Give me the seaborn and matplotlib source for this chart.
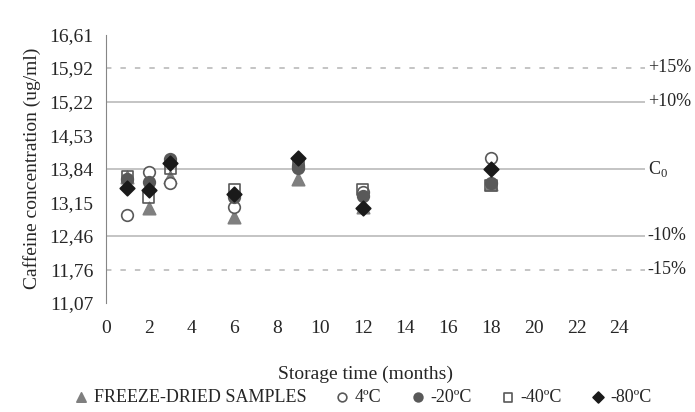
import numpy as np
import pandas as pd
import matplotlib
matplotlib.use("Agg")
import matplotlib.pyplot as plt
import seaborn as sns

# --------------------------------------------------
# data
# --------------------------------------------------

months = [1, 2, 3, 6, 9, 12, 18]

freeze_dried = [13.68, 13.02, 13.67, 12.85, 13.63, 13.06, 13.52]
temp_4 = [12.89, 13.77, 13.55, 13.05, 13.90, 13.36, 14.06]
temp_m20 = [13.62, 13.57, 14.04, 13.26, 13.86, 13.28, 13.55]
temp_m40 = [13.68, 13.24, 13.85, 13.40, 13.94, 13.42, 13.50]
temp_m80 = [13.44, 13.40, 13.96, 13.32, 14.06, 13.03, 13.83]

series_names = ["FREEZE-DRIED SAMPLES", "4ºC", "-20ºC", "-40ºC", "-80ºC"]

y_ticks = [11.07, 11.76, 12.46, 13.15, 13.84, 14.53, 15.22, 15.92, 16.61]
y_tick_labels = ["11,07", "11,76", "12,46", "13,15", "13,84", "14,53", "15,22", "15,92", "16,61"]
x_ticks = list(range(0, 25, 2))

ref_levels = [15.92, 15.22, 13.84, 12.46, 11.76]
ref_labels = ["+15%", "+10%", r"C$_\mathrm{0}$", "-10%", "-15%"]
ref_styles = [(0, (3, 5)), "-", "-", "-", (0, (3, 5))]

df = pd.DataFrame({
    "Month": months * 5,
    "Conc": freeze_dried + temp_4 + temp_m20 + temp_m40 + temp_m80,
    "Series": np.repeat(series_names, len(months)),
})

# --------------------------------------------------
# plotting
# --------------------------------------------------

sns.set_style("white")
plt.rcParams["font.family"] = ["Liberation Serif", "DejaVu Serif"]
plt.rcParams["mathtext.fontset"] = "custom"
plt.rcParams["mathtext.rm"] = "Liberation Serif"

fig = plt.figure(figsize=(6.95, 4.12), dpi=100)
ax = fig.add_axes([0.1525, 0.2646, 0.7755, 0.6516])

for lvl, ls in zip(ref_levels, ref_styles):
    ax.axhline(lvl, color="#bfbfbf", lw=1.3, ls=ls, zorder=1)

styles = {
    "FREEZE-DRIED SAMPLES": dict(marker="^", color="#7f7f7f", edgecolor="#7f7f7f", s=80),
    "4ºC": dict(marker="o", color="white", edgecolor="#595959", s=70),
    "-20ºC": dict(marker="o", color="#595959", edgecolor="#595959", s=70),
    "-40ºC": dict(marker="s", color="none", edgecolor="#595959", s=65),
    "-80ºC": dict(marker="D", color="#1a1a1a", edgecolor="#1a1a1a", s=55),
}

for name in series_names:
    st = styles[name]
    sns.scatterplot(data=df[df["Series"] == name], x="Month", y="Conc", ax=ax,
                    marker=st["marker"], color=st["color"], edgecolor=st["edgecolor"],
                    linewidth=1.2, s=st["s"], label=name, zorder=3)

ax.set_xlim(0, 25.2)
ax.set_ylim(11.07, 16.61)
ax.set_xticks(x_ticks)
ax.set_yticks(y_ticks)
ax.set_yticklabels(y_tick_labels)

for sp in ["top", "right", "bottom"]:
    ax.spines[sp].set_visible(False)
ax.spines["left"].set_color("#868686")
ax.tick_params(axis="y", length=5, color="#868686", labelsize=14, pad=4)
ax.tick_params(axis="x", length=0, labelsize=14, pad=12)

for lvl, lab in zip(ref_levels, ref_labels):
    ax.text(1.005, lvl, lab, transform=ax.get_yaxis_transform(),
            va="center", ha="left", fontsize=13)

ax.set_xlabel("Storage time (months)", fontsize=14)
ax.xaxis.set_label_coords(0.482, -0.235)
ax.set_ylabel("Caffeine concentration (ug/ml)", fontsize=14, labelpad=6)

handles, labels = ax.get_legend_handles_labels()
ax.get_legend().remove()
fig.legend(handles, labels, loc="center", bbox_to_anchor=(0.522, 0.035), ncol=5,
           frameon=False, fontsize=13, handlelength=0.8, handletextpad=0.3,
           columnspacing=1.6, markerscale=0.75, borderpad=0)

plt.savefig("out.png", dpi=100)
